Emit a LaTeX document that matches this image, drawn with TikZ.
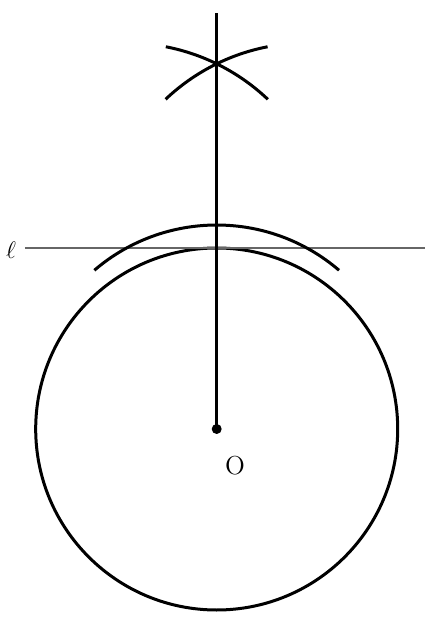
\documentclass[tikz,border=0pt]{standalone}
\usetikzlibrary{positioning}

\begin{document}
\begin{tikzpicture}[
        x=0.5pt, y=0.5pt,
        thickline/.style={line width=1.5pt, black},
        thinline/.style={line width=1pt, black!60},
        arcline/.style={line width=1.5pt, black},
        punto/.style={circle, fill=black, inner sep=0pt, minimum size=5pt},
        label/.style={font=\fontsize{13}{15}\selectfont, text=black, inner sep=0pt}
    ]
    \useasboundingbox (-216.7,-191) rectangle (217.3,429);

    % CENTRO Y CIRCUNFERENCIA
    \node[punto] (centro) at (0,0) {};
    \draw[thickline] (centro.center) circle[radius=181];
    \node[label] (etiqO) at (18.3,-36.5) {O};

    % RECTA TANGENTE
    \coordinate (rectaIzq) at (-191.7,181);
    \coordinate (rectaDer) at (208.3,181);
    \draw[thinline] (rectaIzq) -- (rectaDer);
    \node[label] (etiqL) at (-205.7,179) {$\ell$};

    % PERPENDICULAR
    \coordinate (arriba) at (0,416);
    \draw[thickline] (centro.center) -- (arriba);

    % ARCOS DE CONSTRUCCION
    \coordinate (centroArco) at (0,16);
    \draw[arcline] ([shift={(49.4:188)}]centroArco) arc[start angle=49.4, end angle=130.6, radius=188];
    \coordinate (ptoA) at (-90,181);
    \coordinate (ptoB) at (90,181);
    \draw[arcline] ([shift={(46.5:205)}]ptoA) arc[start angle=46.5, end angle=79, radius=205];
    \draw[arcline] ([shift={(101:205)}]ptoB) arc[start angle=101, end angle=133.5, radius=205];
\end{tikzpicture}
\end{document}
